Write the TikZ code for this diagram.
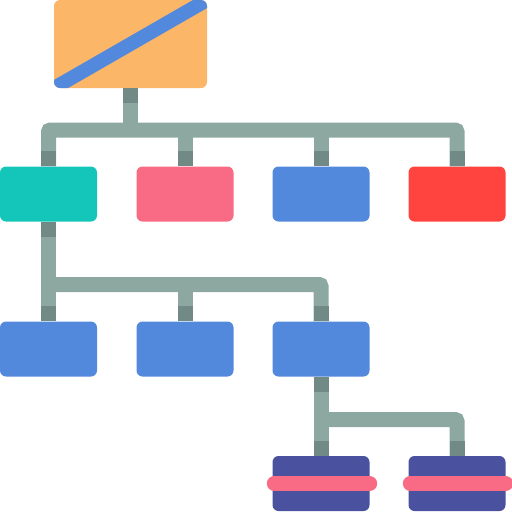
\documentclass[tikz,border=0pt]{standalone}
\usepackage{tikz}
\usetikzlibrary{calc}

\definecolor{rootorange}{HTML}{FBB668}
\definecolor{unitblue}{HTML}{5289DC}
\definecolor{bargray}{HTML}{8CA8A0}
\definecolor{stubgray}{HTML}{728A86}
\definecolor{unitteal}{HTML}{14C5B9}
\definecolor{unitpink}{HTML}{F96B84}
\definecolor{unitred}{HTML}{FF433F}
\definecolor{unitnavy}{HTML}{4A519E}

\begin{document}
\begin{tikzpicture}[x=1pt, y=-1pt,
		box/.style={rectangle, rounded corners=6pt, inner sep=0pt, minimum width=97pt, minimum height=55pt},
		bar/.style={draw=bargray, line width=15pt, rounded corners=2pt},
		stub/.style={draw=stubgray, line width=15pt},
		band/.style={draw=unitpink, line width=15pt, line cap=round}]
			\useasboundingbox (0, 0) rectangle (512, 512);
			
			\coordinate (busA) at (0, 130);
			\coordinate (busB) at (0, 284.5);
			\coordinate (busC) at (0, 419.5);
			
			\node[box, fill=rootorange, minimum width=153pt, minimum height=88pt,
				path picture={\draw[unitblue, line width=14pt] (path picture bounding box.south west) -- (path picture bounding box.north east);}] (root) at (130.5, 44) {};
			
			\node[box, fill=unitteal] (r1a) at (48.5, 194) {};
			\node[box, fill=unitpink] (r1b) at (185, 194) {};
			\node[box, fill=unitblue] (r1c) at (321, 194) {};
			\node[box, fill=unitred] (r1d) at (457, 194) {};
			
			\node[box, fill=unitblue] (r2a) at (48.5, 349) {};
			\node[box, fill=unitblue] (r2b) at (185, 349) {};
			\node[box, fill=unitblue] (r2c) at (321, 349) {};
			
			\node[box, fill=unitnavy] (r3a) at (321, 483.5) {};
			\node[box, fill=unitnavy] (r3b) at (457, 483.5) {};
			
			% first level
			\draw[bar] (root.south) -- (root.south |- busA);
			\draw[bar] (r1a.north) |- (busA -| r1d.north) -- (r1d.north);
			\draw[bar] (r1b.north) -- (r1b.north |- busA);
			\draw[bar] (r1c.north) -- (r1c.north |- busA);
			
			% second level
			\draw[bar] (r1a.south) -- (r2a.north);
			\draw[bar] (r1a.south |- busB) -| (r2c.north);
			\draw[bar] (r2b.north) -- (r2b.north |- busB);
			
			% third level
			\draw[bar] (r2c.south) -- (r3a.north);
			\draw[bar] (r2c.south |- busC) -| (r3b.north);
			
			\draw[stub] (root.south) -- ++(0, 15);
			\draw[stub] (r1a.north) -- ++(0, -15);
			\draw[stub] (r1b.north) -- ++(0, -15);
			\draw[stub] (r1c.north) -- ++(0, -15);
			\draw[stub] (r1d.north) -- ++(0, -15);
			\draw[stub] (r1a.south) -- ++(0, 15);
			\draw[stub] (r2a.north) -- ++(0, -15);
			\draw[stub] (r2b.north) -- ++(0, -15);
			\draw[stub] (r2c.north) -- ++(0, -15);
			\draw[stub] (r2c.south) -- ++(0, 15);
			\draw[stub] (r3a.north) -- ++(0, -15);
			\draw[stub] (r3b.north) -- ++(0, -15);
			
			\draw[band, shorten <=2pt] (r3a.west) -- (r3a.east);
			\draw[band, shorten <=2pt] (r3b.west) -- (r3b.east);
			
		\end{tikzpicture}
\end{document}
